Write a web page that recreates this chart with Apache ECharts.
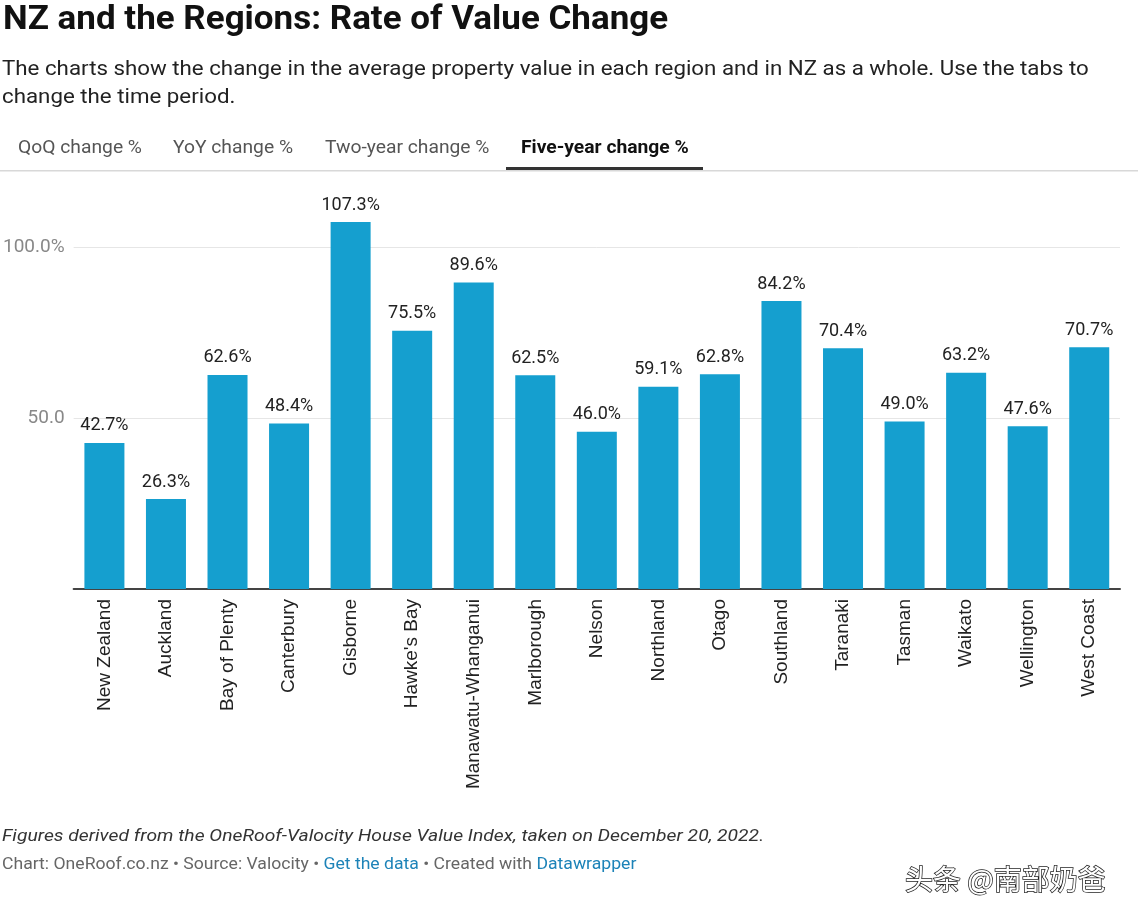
<!DOCTYPE html>
<html><head><meta charset="utf-8">
<script src="https://cdn.jsdelivr.net/npm/echarts@6/dist/echarts.min.js"></script>
<style>html,body{margin:0;padding:0;background:#fff}#c{width:1138px;height:918px}</style>
</head><body><div id="c"></div>
<script>
const categories = ['New Zealand','Auckland','Bay of Plenty','Canterbury','Gisborne',"Hawke's Bay",'Manawatu-Whanganui','Marlborough','Nelson','Northland','Otago','Southland','Taranaki','Tasman','Waikato','Wellington','West Coast'];
const values = [42.7,26.3,62.6,48.4,107.3,75.5,89.6,62.5,46.0,59.1,62.8,84.2,70.4,49.0,63.2,47.6,70.7];
const yTickValues = [50,100];
const yTickLabels = ['50.0','100.0%'];
const tabs = ['QoQ change %','YoY change %','Two-year change %','Five-year change %'];

const chart = echarts.init(document.getElementById('c'), null, {renderer:'canvas'});
const F = 'Roboto, "Liberation Sans", sans-serif';
const tabX = [18,173,325,521];
function txt(x,y,sx,style){ return {type:'text', x:x, y:y, scaleX:sx, originX:0, style:Object.assign({verticalAlign:'top', align:'left'}, style)}; }
const graphics = [
  txt(3,4,1.06,{text:'NZ and the Regions: Rate of Value Change', font:'bold 33px '+F, fill:'#111'}),
  txt(2,56,1.115,{text:'The charts show the change in the average property value in each region and in NZ as a whole. Use the tabs to\nchange the time period.', font:'20px '+F, fill:'#222', lineHeight:28}),
  {type:'rect', shape:{x:0,y:170,width:1138,height:1.5}, style:{fill:'#d8d8d8'}},
  {type:'rect', shape:{x:506,y:167,width:197,height:3}, style:{fill:'#333'}},
  txt(2,828,1.135,{text:'Figures derived from the OneRoof-Valocity House Value Index, taken on December 20, 2022.', font:'italic 17px '+F, fill:'#333'}),
  txt(2,857,1.1,{text:'{g|Chart: OneRoof.co.nz • Source: Valocity • }{b|Get the data}{g| • Created with }{b|Datawrapper}', font:'16px '+F, rich:{g:{fill:'#666',font:'16px '+F},b:{fill:'#1d83b8',font:'16px '+F}}}),
  txt(905,865,1,{text:'头条 @南部奶爸', font:'28px "Noto Sans CJK SC"', fill:'#fff', stroke:'#222', lineWidth:1.5})
];
tabs.forEach((t,i)=>graphics.push(txt(tabX[i],139,1.07,{text:t, font:(i===3?'bold ':'')+'18px '+F, fill:i===3?'#111':'#555'})));

chart.setOption({
  animation:false,
  grid:{left:73, right:18, top:222, bottom:329},
  xAxis:{type:'category', data:categories,
    axisLine:{lineStyle:{color:'#444', width:2}}, axisTick:{show:false},
    axisLabel:{rotate:90, interval:0, color:'#222', fontSize:19, fontFamily:'"Liberation Sans", Arial, sans-serif', margin:10}},
  yAxis:{type:'value', min:0, max:107.3, interval:50,
    axisLine:{show:false}, axisTick:{show:false},
    splitLine:{show:true, showMinLine:false, showMaxLine:false, lineStyle:{color:'#e6e6e6'}},
    axisLabel:{showMaxLabel:false, showMinLabel:false, color:'#888', fontSize:19, fontFamily:F, margin:9,
      formatter:v=>{const i=yTickValues.indexOf(v); return i>=0?yTickLabels[i]:'';}}},
  series:[{type:'bar', data:values, barCategoryGap:'35%', itemStyle:{color:'#159fcf'},
    label:{show:true, position:'top', distance:8, color:'#222', fontSize:18, fontFamily:F, formatter:p=>p.value.toFixed(1)+'%'}}],
  graphic:graphics
});
</script></body></html>
